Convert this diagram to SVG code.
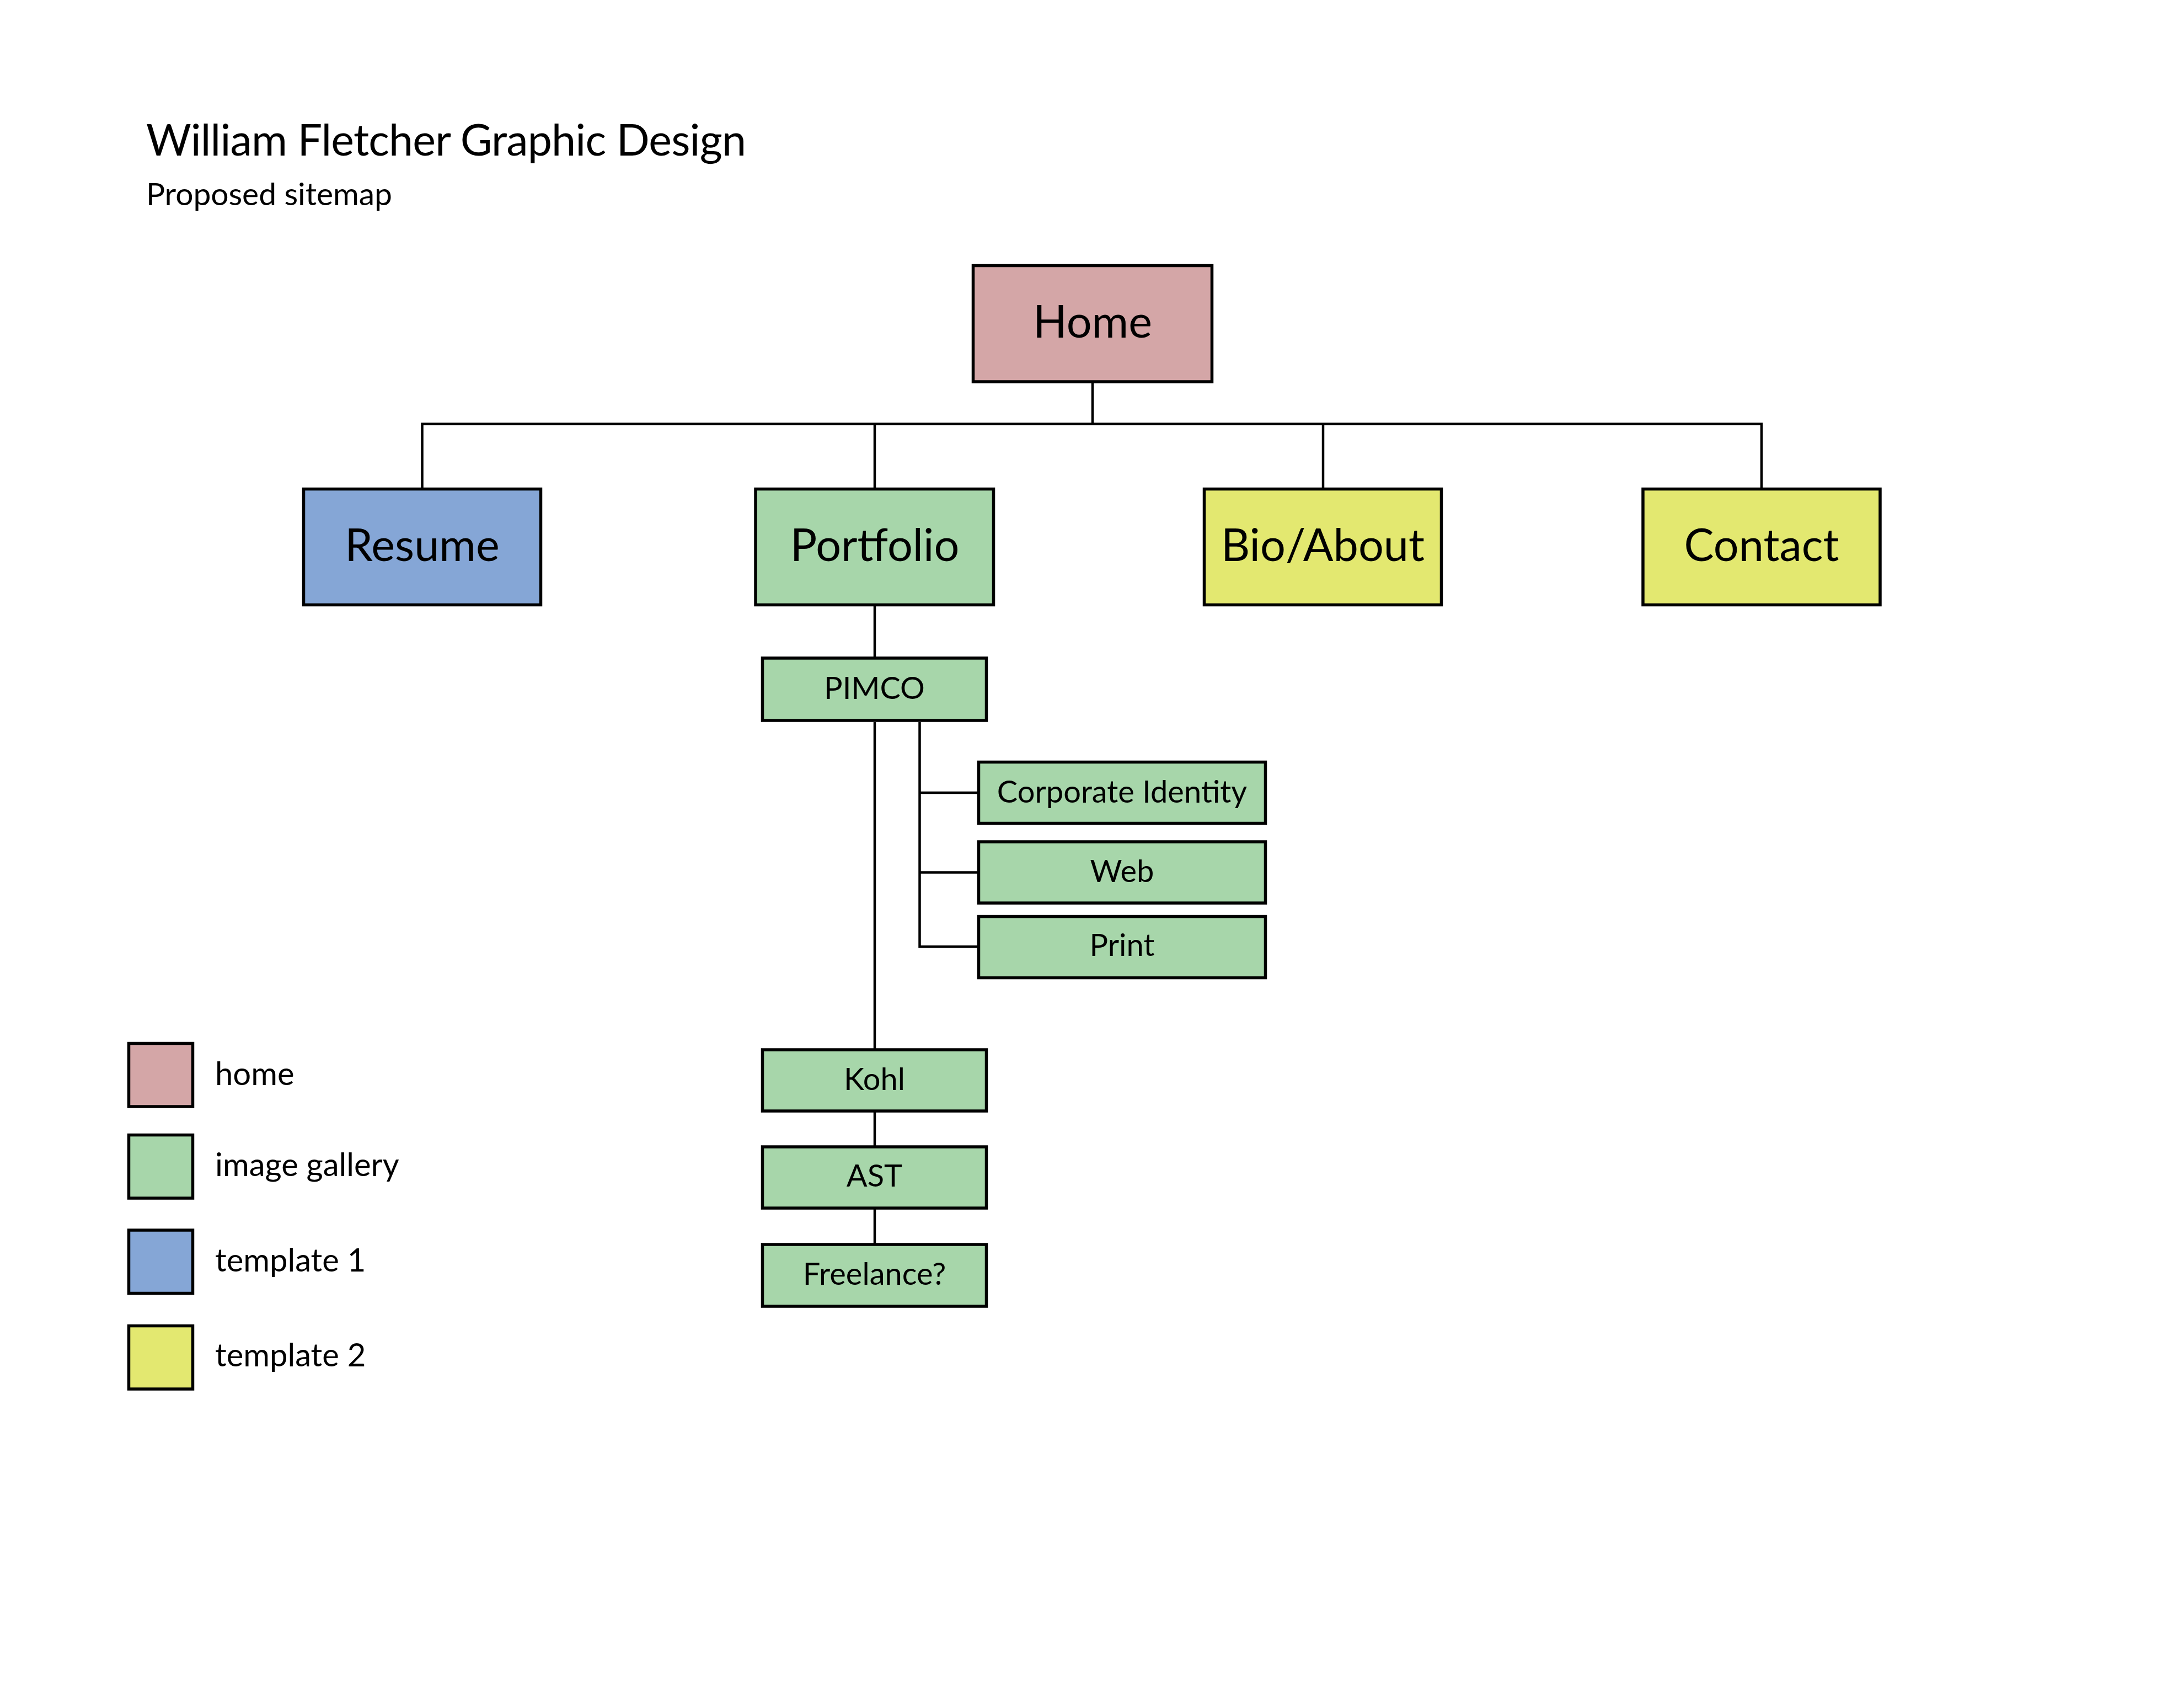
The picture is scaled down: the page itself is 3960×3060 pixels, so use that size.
<svg xmlns="http://www.w3.org/2000/svg" width="3960" height="3060" viewBox="0 0 3960 3060">
<style>
  text { font-family: Lato, "Open Sans", "Noto Sans", sans-serif; fill: #000; }
  .title { font-size: 79px; }
  .sub { font-size: 57px; }
  .big { font-size: 81px; text-anchor: middle; }
  .small { font-size: 56px; text-anchor: middle; }
  .leg { font-size: 58px; }
  .box { stroke: #000; stroke-width: 5.5; }
  .home { fill: #D4A6A7; }
  .gal { fill: #A7D6AA; }
  .t1 { fill: #85A6D6; }
  .t2 { fill: #E3E870; }
  .conn line, .conn path { stroke: #000; stroke-width: 4.5; fill: none; }
</style>
<rect x="0" y="0" width="3960" height="3060" fill="#FFFFFF"/>
<g id="header">
  <text class="title" x="265" y="282" textLength="1088" lengthAdjust="spacing">William Fletcher Graphic Design</text>
  <text class="sub" x="265" y="372" textLength="446" lengthAdjust="spacing">Proposed sitemap</text>
</g>
<g id="connectors" class="conn">
  <line x1="1981" y1="694" x2="1981" y2="768.5"/>
  <path d="M765.5,884 V768.5 H3194 V884"/>
  <line x1="1586" y1="768.5" x2="1586" y2="884"/>
  <line x1="2399" y1="768.5" x2="2399" y2="884"/>
  <line x1="1586" y1="1099" x2="1586" y2="1191"/>
  <line x1="1586" y1="1309" x2="1586" y2="1901"/>
  <path d="M1667.5,1309 V1716 H1772"/>
  <line x1="1667.5" y1="1437" x2="1772" y2="1437"/>
  <line x1="1667.5" y1="1581.5" x2="1772" y2="1581.5"/>
  <line x1="1586" y1="2016" x2="1586" y2="2077"/>
  <line x1="1586" y1="2192" x2="1586" y2="2254"/>
</g>
<g id="node-home">
  <rect class="box home" x="1764.5" y="481.5" width="433" height="210.5"/>
  <text class="big" x="1981" y="612">Home</text>
</g>
<g id="node-resume">
  <rect class="box t1" x="550.5" y="886.5" width="430" height="210"/>
  <text class="big" x="765.5" y="1017">Resume</text>
</g>
<g id="node-portfolio">
  <rect class="box gal" x="1370" y="886.5" width="431.5" height="210"/>
  <text class="big" x="1586" y="1017">Portfolio</text>
</g>
<g id="node-bio">
  <rect class="box t2" x="2183.5" y="886.5" width="430" height="210"/>
  <text class="big" x="2398.5" y="1017">Bio/About</text>
</g>
<g id="node-contact">
  <rect class="box t2" x="2979" y="886.5" width="430" height="210"/>
  <text class="big" x="3194" y="1017">Contact</text>
</g>
<g id="node-pimco">
  <rect class="box gal" x="1382.5" y="1193" width="406" height="113"/>
  <text class="small" x="1585.5" y="1267">PIMCO</text>
</g>
<g id="node-corporate">
  <rect class="box gal" x="1774.5" y="1381.5" width="520" height="111"/>
  <text class="small" x="2034.5" y="1455">Corporate Identity</text>
</g>
<g id="node-web">
  <rect class="box gal" x="1774.5" y="1526" width="520" height="111"/>
  <text class="small" x="2034.5" y="1599">Web</text>
</g>
<g id="node-print">
  <rect class="box gal" x="1774.5" y="1661.5" width="520" height="111"/>
  <text class="small" x="2034.5" y="1733">Print</text>
</g>
<g id="node-kohl">
  <rect class="box gal" x="1382.5" y="1903" width="406" height="111"/>
  <text class="small" x="1585.5" y="1976">Kohl</text>
</g>
<g id="node-ast">
  <rect class="box gal" x="1382.5" y="2079" width="406" height="111"/>
  <text class="small" x="1585.5" y="2150.5">AST</text>
</g>
<g id="node-freelance">
  <rect class="box gal" x="1382.5" y="2256" width="406" height="112"/>
  <text class="small" x="1585.5" y="2329">Freelance?</text>
</g>
<g id="legend">
  <rect class="box home" x="233.5" y="1891.5" width="116" height="114.5"/>
  <text class="leg" x="390" y="1967">home</text>
  <rect class="box gal" x="233.5" y="2057.5" width="116" height="114.5"/>
  <text class="leg" x="390" y="2132">image gallery</text>
  <rect class="box t1" x="233.5" y="2230" width="116" height="114.5"/>
  <text class="leg" x="390" y="2304.5">template 1</text>
  <rect class="box t2" x="233.5" y="2403.5" width="116" height="114.5"/>
  <text class="leg" x="390" y="2477">template 2</text>
</g>
</svg>
